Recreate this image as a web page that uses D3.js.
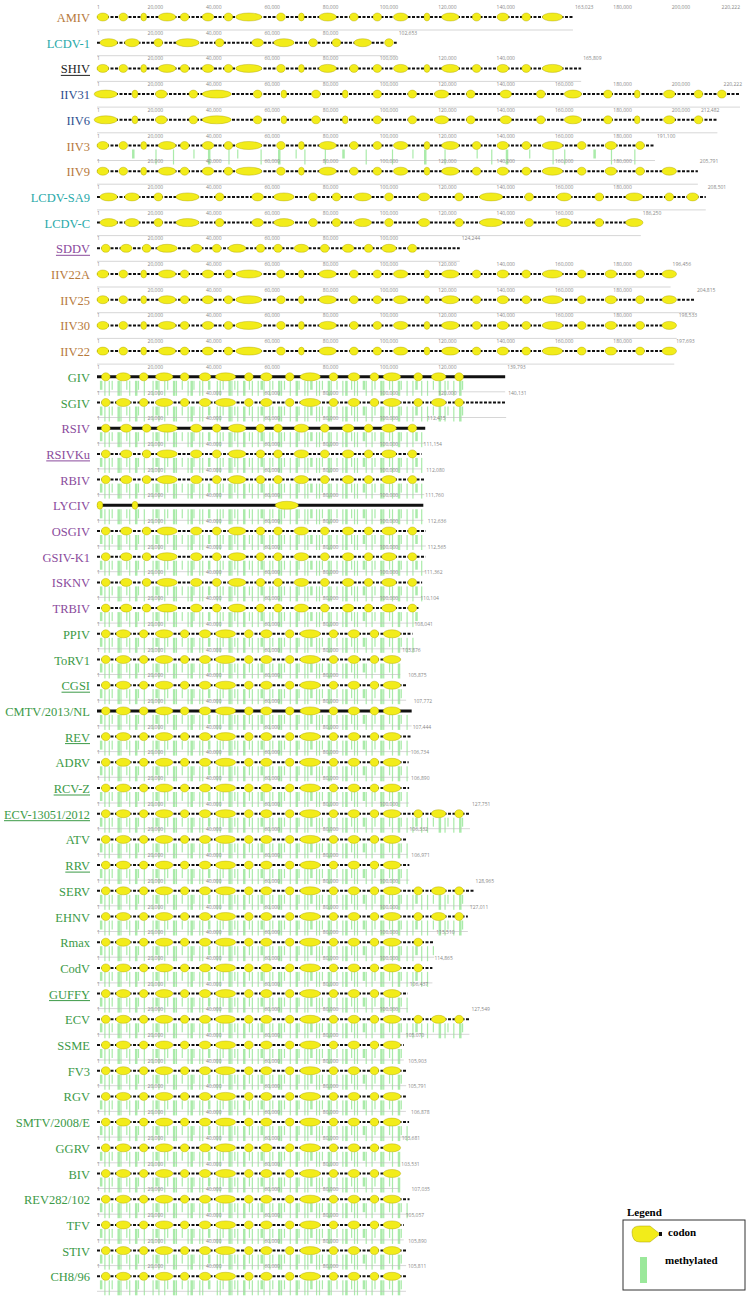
<!DOCTYPE html><html><head><meta charset="utf-8"><script src="https://cdn.jsdelivr.net/npm/d3@7"></script>
<style>body{margin:0;background:#fff}</style></head><body><svg id="c" width="749" height="1296"></svg>
<script>
const names=["AMIV","LCDV-1","SHIV","IIV31","IIV6","IIV3","IIV9","LCDV-SA9","LCDV-C","SDDV","IIV22A","IIV25","IIV30","IIV22","GIV","SGIV","RSIV","RSIVKu","RBIV","LYCIV","OSGIV","GSIV-K1","ISKNV","TRBIV","PPIV","ToRV1","CGSI","CMTV/2013/NL","REV","ADRV","RCV-Z","ECV-13051/2012","ATV","RRV","SERV","EHNV","Rmax","CodV","GUFFY","ECV","SSME","FV3","RGV","SMTV/2008/E","GGRV","BIV","REV282/102","TFV","STIV","CH8/96"];
const lengths=[163023,102653,165809,220222,212482,191100,205791,208501,186250,124244,196456,204815,198533,197693,139793,140131,112415,111154,112080,111760,112636,112565,111362,110104,108041,103876,105875,107772,107444,106734,106890,127751,106332,106971,128965,127011,115510,114865,106437,127549,105070,105903,105791,106878,103681,103531,107035,105057,105890,105811];
const groups=["irido","lcdv","irido","irido2","irido2","irido","irido","lcdv","lcdv","megalo","irido","irido","irido","irido","rana","rana","megalo","megalo","megalo","lyc","megalo","megalo","megalo","megalo","rana","rana","rana","rana","rana","rana","rana","rana","rana","rana","rana","rana","rana","rana","rana","rana","rana","rana","rana","rana","rana","rana","rana","rana","rana","rana"];
const underlined=["SHIV","SDDV","RSIVKu","CGSI","REV","RCV-Z","ECV-13051/2012","RRV","GUFFY"];
const methylated=["IIV3","GIV","SGIV","RSIV","RSIVKu","RBIV","LYCIV","OSGIV","GSIV-K1","ISKNV","TRBIV","PPIV","ToRV1","CGSI","CMTV/2013/NL","REV","ADRV","RCV-Z","ECV-13051/2012","ATV","RRV","SERV","EHNV","Rmax","CodV","GUFFY","ECV","SSME","FV3","RGV","SMTV/2008/E","GGRV","BIV","REV282/102","TFV","STIV","CH8/96"];
const thickLine=["GIV","RSIV","LYCIV","CMTV/2013/NL"];
const colorClass={"AMIV":"o","IIV3":"o","IIV9":"o","IIV22A":"o","IIV25":"o","IIV30":"o","IIV22":"o","LCDV-1":"t","LCDV-SA9":"t","LCDV-C":"t","SHIV":"k","IIV31":"n","IIV6":"n","SDDV":"p","RSIV":"p","RSIVKu":"p","RBIV":"p","LYCIV":"p","OSGIV":"p","GSIV-K1":"p","ISKNV":"p","TRBIV":"p"};
const irido=[[2,4],[9,3],[16,2],[24,6],[30,3],[38,4],[45,3],[52,9],[63,3],[70,2],[79,6],[88,3],[96,3],[104,5],[113,2],[121,6],[130,3],[139,4],[147,3],[156,7],[166,3],[176,4],[186,3],[196,5],[206,3],[215,3]];
const irido2=[[3,8],[13,2],[22,4],[33,3],[41,10],[55,3],[64,2],[75,3],[85,2],[96,3],[108,3],[118,5],[128,3],[140,4],[152,3],[163,6],[175,3],[185,2],[196,4],[206,3],[214,3]];
const lcdv=[[4,6],[12,5],[21,3],[31,8],[42,3],[55,4],[64,7],[74,3],[82,3],[91,6],[100,3],[112,4],[124,3],[135,8],[148,3],[160,5],[172,3],[184,6],[196,3],[204,4]];
const megalo=[[3,3],[10,4],[17,3],[24,7],[34,4],[41,3],[48,6],[56,3],[62,3],[70,5],[78,3],[86,4],[93,3],[100,5],[108,3]];
const lyc=[[1,2],[13,2],[65,8],[120,2]];
const rana=[[3,3],[9,5],[16,3],[23,6],[30,3],[37,4],[44,7],[52,3],[58,4],[66,3],[73,7],[81,3],[88,4],[95,3],[101,6],[110,3],[117,5],[124,3]];
const geneSets={irido,irido2,lcdv,megalo,lyc,rana};
const methRana=[1,2.5,4,5,7,8,10,11,13,14,16,19,20,21,23,24,26,27,29,31,32,33,35,36,38,41,42,43,45,46,47,48,50,52,53,55,56,57,59,60,62,63,64,66,68,69,71,72,73,75,76,77,79,80,82,84,85,87,88,89,91,92,94,95,97,98,100,101,103,104,106,108,109,111,113,115,117,119,120,122,124,125];
const methIIV=[12,20,26,33,38,45,48,56,62,68,71,78,84,92,101,108,112,119,130,135,140,148,156,160,170,176,184];
const x=d3.scaleLinear().domain([0,220222]).range([97,740]);
const y=d3.scaleBand().domain(names).range([5,1290]);
const svg=d3.select("#c");
const cols={o:"#b77a3c",t:"#27a9a9",k:"#222",n:"#2f4f8f",p:"#8a4b9c",g:"#3c9a47"};
const fmt=d3.format(",");
const tick=(g,xx,yy,s,anc)=>g.append("text").attr("x",xx).attr("y",yy).attr("text-anchor",anc).attr("font-size",5).attr("fill","#888").attr("font-family","Open Sans").text(s);
names.forEach((nm,i)=>{
 const L=lengths[i], y0=y(nm)+12, g=svg.append("g");
 const c=cols[colorClass[nm]||"g"];
 const t=g.append("text").attr("x",90).attr("y",y0+5).attr("text-anchor","end").attr("font-family","'Liberation Serif',serif").attr("font-size",12.5).attr("fill",c).text(nm);
 const tw=t.node().getComputedTextLength();
 if(tw>86) t.attr("textLength",86).attr("lengthAdjust","spacingAndGlyphs");
 if(underlined.includes(nm)){g.append("line").attr("x1",90-Math.min(tw,86)).attr("x2",90).attr("y1",y0+7).attr("y2",y0+7).attr("stroke",c).attr("stroke-width",1);}
 tick(g,x(0),y0-8,"1","start");
 d3.range(20000,L-9000,20000).forEach(v=>tick(g,x(v),y0-8,fmt(v),"middle"));
 tick(g,Math.min(x(L)+2,748),y0-8,fmt(L),x(L)>715?"end":"start");
 const meth=methylated.includes(nm);
 if(meth){
  const ms=(groups[i]==="irido"?methIIV:methRana).filter(v=>v*1000<L);
  ms.forEach((v,j)=>g.append("rect").attr("x",x(v*1000)).attr("y",y0+4).attr("width",j%4===0?2.5:1.2).attr("height",j%3?15:9).attr("fill","#9be89b").attr("opacity",0.85));
 }
 g.append("line").attr("x1",x(0)).attr("x2",x(L)).attr("y1",y0+(meth?15:13)).attr("y2",y0+(meth?15:13)).attr("stroke","#bbb").attr("stroke-width",0.6);
 g.append("line").attr("x1",x(0)).attr("x2",x(L)).attr("y1",y0).attr("y2",y0).attr("stroke","#111").attr("stroke-width",thickLine.includes(nm)?3:2).attr("stroke-dasharray",thickLine.includes(nm)?null:"3,1.5");
 geneSets[groups[i]].filter(d=>d[0]*1000<L).forEach(d=>{
  const cx=x(d[0]*1000), rx=Math.max(2,(x(d[1]*1000)-x(0))/2);
  g.append("ellipse").attr("cx",cx).attr("cy",y0).attr("rx",rx).attr("ry",4).attr("fill","#f2ec1a").attr("stroke","#a89e00").attr("stroke-width",0.4);
 });
});
const y0=y("AMIV")+12;
[180000,200000].forEach(v=>tick(svg,x(v),y0-8,fmt(v),"middle"));
tick(svg,740,y0-8,"220,222","end");
const lg=svg.append("g");
lg.append("text").attr("x",627).attr("y",1216).attr("font-family","'Liberation Serif',serif").attr("font-weight","bold").attr("font-size",11).text("Legend");
lg.append("rect").attr("x",623).attr("y",1220).attr("width",122).attr("height",70).attr("fill","none").attr("stroke","#333");
lg.append("path").attr("d","M632,1232 Q632,1226 640,1226 L650,1226 L660,1234 L650,1242 L640,1242 Q632,1242 632,1232Z").attr("fill","#f2ec1a").attr("stroke","#a89e00").attr("stroke-width",0.5);
lg.append("rect").attr("x",659).attr("y",1232).attr("width",3).attr("height",4).attr("fill","#111");
lg.append("text").attr("x",668).attr("y",1236).attr("font-family","'Liberation Serif',serif").attr("font-weight","bold").attr("font-size",11).text("codon");
lg.append("rect").attr("x",640).attr("y",1257).attr("width",7).attr("height",26).attr("fill","#9be89b");
lg.append("text").attr("x",665).attr("y",1264).attr("font-family","'Liberation Serif',serif").attr("font-weight","bold").attr("font-size",11).text("methylated");
</script></body></html>
